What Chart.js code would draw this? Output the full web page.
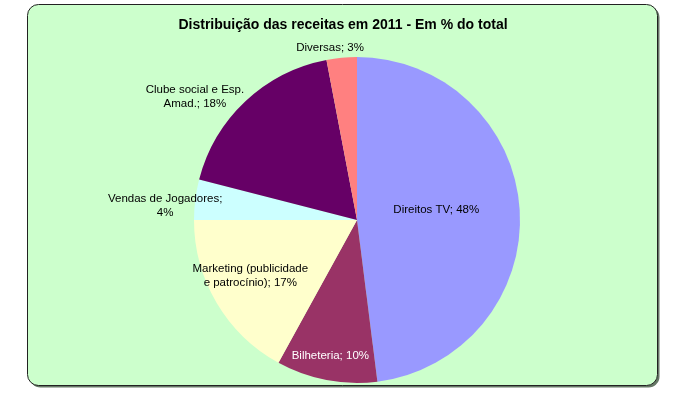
<!DOCTYPE html>
<html>
<head>
<meta charset="utf-8">
<script src="https://cdn.jsdelivr.net/npm/chart.js@4"></script>
<style>
  html, body { margin: 0; padding: 0; background: #fff; }
  #wrap { width: 673px; height: 393px; position: relative; }
</style>
</head>
<body>
<div id="wrap"><canvas id="pie-chart"></canvas></div>
<script>
const title = "Distribuição das receitas em 2011 - Em % do total";
const categories = ["Direitos TV", "Bilheteria", "Marketing (publicidade e patrocínio)", "Vendas de Jogadores", "Clube social e Esp. Amad.", "Diversas"];
const shares = [48, 10, 17, 4, 18, 3];
const labelLines = [
    ["Direitos TV; 48%"],
    ["Bilheteria; 10%"],
    ["Marketing (publicidade", "e patrocínio); 17%"],
    ["Vendas de Jogadores;", "4%"],
    ["Clube social e Esp.", "Amad.; 18%"],
    ["Diversas; 3%"]
];
const sliceColors = ["#9999FF", "#993366", "#FFFFCC", "#CCFFFF", "#660066", "#FF8080"];
// label placement: fraction of radius, angle tweak (deg), text colour
const labelPos = [
    [0.49, -3.5, "#000"],
    [0.85, 0.3, "#fff"],
    [0.74, 2.8, "#000"],
    [1.18, -3, "#000"],
    [1.25, -9.5, "#000"],
    [1.07, -3.5, "#000"]
];

function roundRect(ctx, x, y, w, h, r) {
    ctx.beginPath();
    ctx.moveTo(x + r, y);
    ctx.lineTo(x + w - r, y);
    ctx.arcTo(x + w, y, x + w, y + r, r);
    ctx.lineTo(x + w, y + h - r);
    ctx.arcTo(x + w, y + h, x + w - r, y + h, r);
    ctx.lineTo(x + r, y + h);
    ctx.arcTo(x, y + h, x, y + h - r, r);
    ctx.lineTo(x, y + r);
    ctx.arcTo(x, y, x + r, y, r);
    ctx.closePath();
}

const framePlugin = {
    id: "frame",
    beforeDraw(chart) {
        const ctx = chart.ctx;
        ctx.save();
        roundRect(ctx, 29.5, 6.5, 630, 381, 11);
        ctx.fillStyle = "#667766";
        ctx.fill();
        roundRect(ctx, 27.5, 4.5, 630, 381, 11);
        ctx.fillStyle = "#CCFFCC";
        ctx.fill();
        ctx.strokeStyle = "#222";
        ctx.lineWidth = 1;
        ctx.stroke();
        ctx.fillStyle = "#000";
        ctx.font = "bold 14px 'Liberation Sans', Arial, sans-serif";
        ctx.textAlign = "center";
        ctx.textBaseline = "middle";
        ctx.fillText(title, 343, 25);
        ctx.restore();
    }
};

const labelPlugin = {
    id: "sliceLabels",
    afterDatasetsDraw(chart) {
        const ctx = chart.ctx;
        const arcs = chart.getDatasetMeta(0).data;
        ctx.save();
        ctx.font = "11.5px 'Liberation Sans', Arial, sans-serif";
        ctx.textAlign = "center";
        ctx.textBaseline = "middle";
        arcs.forEach((arc, i) => {
            const [f, tweak, color] = labelPos[i];
            const mid = (arc.startAngle + arc.endAngle) / 2 + tweak * Math.PI / 180;
            const r = arc.outerRadius * f;
            const cx = arc.x + Math.cos(mid) * r;
            const cy = arc.y + Math.sin(mid) * r;
            const lines = labelLines[i];
            ctx.fillStyle = color;
            lines.forEach((line, j) => {
                ctx.fillText(line, cx, cy + (j - (lines.length - 1) / 2) * 14);
            });
        });
        ctx.restore();
    }
};

const ctx = document.getElementById("pie-chart").getContext("2d");
new Chart(ctx, {
    type: "pie",
    data: {
        labels: categories,
        datasets: [{
            data: shares,
            backgroundColor: sliceColors,
            borderWidth: 0,
            hoverOffset: 0
        }]
    },
    options: {
        responsive: true,
        maintainAspectRatio: false,
        animation: false,
        layout: {
            padding: { left: 194, right: 153, top: 57, bottom: 10 }
        },
        plugins: {
            legend: { display: false },
            tooltip: { enabled: false }
        }
    },
    plugins: [framePlugin, labelPlugin]
});
</script>
</body>
</html>
